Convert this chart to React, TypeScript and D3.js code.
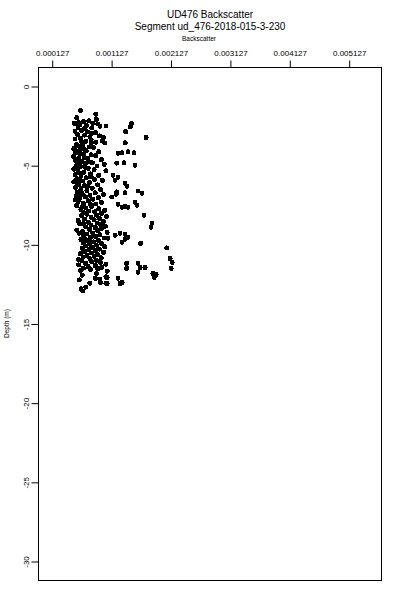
import { useRef, useEffect } from "react";
import * as d3 from "d3";

// chart text
const titleLines = ["UD476 Backscatter", "Segment ud_476-2018-015-3-230"];
const xLabel = "Backscatter";
const yLabel = "Depth (m)";

// axis ticks
const xTicks = [0.000127, 0.001127, 0.002127, 0.003127, 0.004127, 0.005127];
const yTicks = [0, -5, -10, -15, -20, -25, -30];

// depth (m) readings, main cluster
const clusterDepth = [
  -1.55, -1.78, -2.35, -2.25, -2.45, -2.2, -2.5, -2.6, -2.35, -2.1, -2.65, -2.55, -2.8, -2.9, -2.95, -3.05,
  -3.1, -3.15, -3.25, -3.3, -3.4, -3.5, -3.55, -3.6, -3.7, -3.75, -3.85, -3.9, -3.95, -4.05, -4.1, -4.15,
  -4.2, -4.3, -4.35, -4.4, -4.45, -4.55, -4.6, -4.65, -4.7, -4.75, -4.85, -4.9, -4.95, -5.0, -5.05, -5.1,
  -5.2, -5.25, -5.3, -5.35, -5.4, -5.45, -5.55, -5.6, -5.65, -5.7, -5.8, -5.85, -5.9, -5.95, -6.0, -6.05,
  -6.1, -6.2, -6.25, -6.3, -6.4, -6.45, -6.5, -6.55, -6.6, -6.7, -6.75, -6.8, -6.85, -6.9, -6.95, -7.0,
  -7.05, -7.1, -7.15, -7.25, -7.3, -7.35, -7.4, -7.45, -7.5,
  -2.0, -2.3, -2.7, -2.85, -3.2, -3.35, -3.45, -3.65, -3.8, -4.0, -4.25, -4.5, -4.8, -5.15, -5.15, -5.5,
  -5.75, -6.15, -6.35, -6.65, -7.2, -7.55, -7.6, -4.0, -4.8, -5.9, -6.9, -3.0, -2.4,
  -7.6, -7.7, -7.75, -7.8, -7.85, -7.9, -7.95, -8.0, -8.05, -8.1, -8.15, -8.2, -8.25, -8.3, -8.35, -8.4,
  -8.45, -8.5, -8.55, -8.6, -8.65, -8.7, -8.7, -8.75, -8.8, -8.85, -8.9, -8.95, -9.0, -9.05, -9.1, -9.15,
  -9.2, -9.25, -9.3, -9.3, -9.35, -9.4, -9.45, -9.5, -9.55, -9.6, -9.65, -9.7, -9.75, -9.8, -9.85, -9.9,
  -9.95, -10.0, -10.05, -10.1, -10.15, -10.2, -10.25, -10.3, -10.35, -10.4, -10.45, -10.5, -10.55, -10.6,
  -10.65, -10.7, -10.75, -10.8, -10.85, -10.9, -10.95, -11.0,
  -11.05, -11.1, -11.15, -11.2, -11.25, -11.3, -11.35, -11.4, -11.45, -11.5, -11.55, -11.6, -11.65, -11.7,
  -11.95, -12.25, -11.85, -12.15, -12.45, -12.7, -12.95, -12.8, -12.05, -12.45, -12.4, -12.2,
];

// backscatter readings for the cluster, in units of 1e-3
const clusterBackscatterE3 = [
  0.61, 0.87, 0.51, 0.66, 0.6, 0.75, 0.71, 0.57, 0.82, 0.88, 0.8, 0.94, 0.63, 0.73, 0.86, 0.56,
  0.68, 0.93, 1.0, 0.61, 0.79, 0.7, 0.87, 1.02, 0.54, 0.64, 0.76, 0.83, 0.5, 0.6, 0.71, 0.92,
  0.53, 0.66, 0.79, 0.87, 0.49, 0.58, 0.73, 0.96, 0.52, 0.63, 0.81, 0.69, 1.01, 0.55, 0.89, 0.61,
  0.74, 0.5, 0.84, 1.04, 0.57, 0.67, 0.78, 0.52, 0.92, 0.62, 0.71, 0.55, 0.85, 0.98, 0.65, 0.5,
  0.76, 0.58, 0.9, 0.68, 0.53, 0.81, 0.62, 0.95, 0.72, 0.56, 0.86, 0.64, 1.0, 0.77, 0.54, 0.69,
  0.91, 0.6, 0.82, 0.74, 0.57, 0.96, 0.66, 0.87, 0.78,
  0.55, 0.58, 0.68, 0.52, 0.77, 0.52, 0.62, 0.79, 0.58, 0.68, 0.59, 0.67, 0.57, 0.53, 0.7, 0.61,
  0.79, 0.55, 0.73, 0.6, 0.52, 0.55, 0.65, 0.51, 0.75, 0.58, 0.61, 0.79, 0.9,
  0.8, 0.7, 0.92, 0.62, 1.02, 0.75, 0.85, 0.66, 0.96, 0.72, 0.88, 0.63, 1.05, 0.79, 0.93, 0.68,
  0.84, 0.57, 1.0, 0.74, 0.89, 0.6, 0.66, 0.95, 0.79, 1.03, 0.7, 0.86, 0.97, 0.76, 0.55, 0.9,
  0.65, 1.06, 0.59, 0.82, 0.72, 0.94, 0.66, 0.87, 0.78, 1.01, 0.69, 0.62, 0.91, 0.74, 0.83, 0.66,
  0.97, 0.77, 0.88, 0.7, 1.02, 0.81, 0.64, 0.93, 0.75, 0.86, 0.68, 1.0, 0.79, 0.61,
  0.9, 0.72, 0.84, 0.66, 0.96, 0.77, 0.58, 0.88,
  0.63, 0.8, 0.95, 0.7, 1.04, 0.58, 0.86, 0.74, 0.97, 0.66, 0.9, 0.78, 0.61, 1.06,
  0.64, 0.59, 0.88, 0.86, 0.77, 0.7, 0.65, 0.62, 1.04, 1.04, 0.95, 0.94,
];

// scattered high readings off the cluster
const outlierDepth = [
  -2.53, -2.36, -2.58, -2.89, -3.25, -3.59, -3.46, -4.24, -4.22, -4.16, -4.22, -4.87, -4.85, -5.0, -5.63,
  -5.76, -5.95, -6.14, -6.33, -6.69, -6.84, -6.75, -6.63, -6.77, -7.01, -7.47, -7.66, -7.59, -7.66, -7.34,
  -7.53, -8.16, -8.67, -8.92, -9.43, -9.3, -9.37, -9.56, -9.87, -9.68, -9.94, -9.62, -10.23, -10.89, -11.14,
  -11.52, -11.2, -11.52, -11.2, -11.46, -11.46, -11.84, -12.09, -11.9, -11.77, -12.15, -12.47, -12.09,
  -12.47, -12.41,
];
const outlierBackscatterE3 = [
  1.041, 1.472, 1.45, 1.373, 1.715, 1.366, 0.979, 1.243, 1.311, 1.411, 1.512, 1.221, 1.344, 1.529, 1.159,
  1.243, 1.193, 1.361, 1.395, 1.221, 1.21, 1.361, 1.58, 1.647, 1.137, 1.243, 1.311, 1.361, 1.411, 1.529,
  1.563, 1.681, 1.816, 1.799, 1.193, 1.277, 1.361, 1.411, 1.311, 1.361, 1.625, 1.075, 2.062, 2.119, 2.153,
  2.136, 1.39, 1.39, 1.58, 1.614, 1.698, 1.832, 1.85, 1.883, 1.58, 1.243, 1.277, 1.058, 1.058, 1.311,
];

export default function App() {
  const svgRef = useRef<SVGSVGElement>(null);

  useEffect(() => {
    const svg = d3.select(svgRef.current);
    svg.selectAll("*").remove();

    const width = 400;
    const height = 600;
    const margin = { top: 67, right: 19, bottom: 20, left: 38 };
    const font = "'Liberation Sans', Arial, Helvetica, sans-serif";

    svg.attr("width", width).attr("height", height).style("font-family", font);

    const points = [
      ...clusterDepth.map((d, i) => ({ depth: d, bs: clusterBackscatterE3[i] * 1e-3 })),
      ...outlierDepth.map((d, i) => ({ depth: d, bs: outlierBackscatterE3[i] * 1e-3 })),
    ];

    const x = d3
      .scaleLinear()
      .domain([-0.000104, 0.005671])
      .range([margin.left, width - margin.right]);

    const y = d3
      .scaleLinear()
      .domain([-31.2, 1.2])
      .range([height - margin.bottom, margin.top]);

    // box
    svg
      .append("rect")
      .attr("x", margin.left + 0.5)
      .attr("y", margin.top + 0.5)
      .attr("width", width - margin.left - margin.right)
      .attr("height", height - margin.top - margin.bottom)
      .attr("fill", "none")
      .attr("stroke", "#000")
      .attr("stroke-width", 1);

    // top axis
    const xAxis = svg
      .append("g")
      .attr("transform", `translate(0.5,${margin.top + 0.5})`)
      .call(
        d3
          .axisTop(x)
          .tickValues(xTicks)
          .tickSize(7)
          .tickPadding(5)
          .tickFormat((d) => d3.format(".6f")(+d))
      );
    xAxis.select(".domain").remove();
    xAxis.selectAll("line").attr("stroke", "#000");
    xAxis.selectAll("text").attr("font-size", 8).attr("font-family", font).attr("fill", "#000");

    // left axis
    const yAxis = svg
      .append("g")
      .attr("transform", `translate(${margin.left + 0.5},0.5)`)
      .call(d3.axisLeft(y).tickValues(yTicks).tickSize(7).tickFormat((d) => String(d)));
    yAxis.select(".domain").remove();
    yAxis.selectAll("line").attr("stroke", "#000");
    yAxis
      .selectAll("text")
      .attr("font-size", 8)
      .attr("font-family", font)
      .attr("fill", "#000")
      .attr("x", null)
      .attr("dy", null)
      .attr("text-anchor", "middle")
      .attr("transform", "translate(-10,0) rotate(-90)");

    // points
    svg
      .append("g")
      .selectAll("circle")
      .data(points)
      .join("circle")
      .attr("cx", (d) => x(d.bs))
      .attr("cy", (d) => y(d.depth))
      .attr("r", 2.5)
      .attr("shape-rendering", "crispEdges")
      .attr("fill", "#000");

    // titles
    svg
      .append("text")
      .attr("x", 210)
      .attr("y", 18)
      .attr("text-anchor", "middle")
      .attr("font-size", 10)
      .text(titleLines[0]);
    svg
      .append("text")
      .attr("x", 210)
      .attr("y", 30)
      .attr("text-anchor", "middle")
      .attr("font-size", 10)
      .text(titleLines[1]);
    svg
      .append("text")
      .attr("x", 199)
      .attr("y", 40.5)
      .attr("text-anchor", "middle")
      .attr("font-size", 6.5)
      .text(xLabel);

    // y label
    svg
      .append("text")
      .attr("transform", `translate(8.5,${(margin.top + height - margin.bottom) / 2}) rotate(-90)`)
      .attr("text-anchor", "middle")
      .attr("font-size", 6.5)
      .text(yLabel);
  }, []);

  return (
    <svg
      ref={svgRef}
      style={{ position: "absolute", left: 0, top: 0, display: "block", background: "#fff" }}
    />
  );
}
